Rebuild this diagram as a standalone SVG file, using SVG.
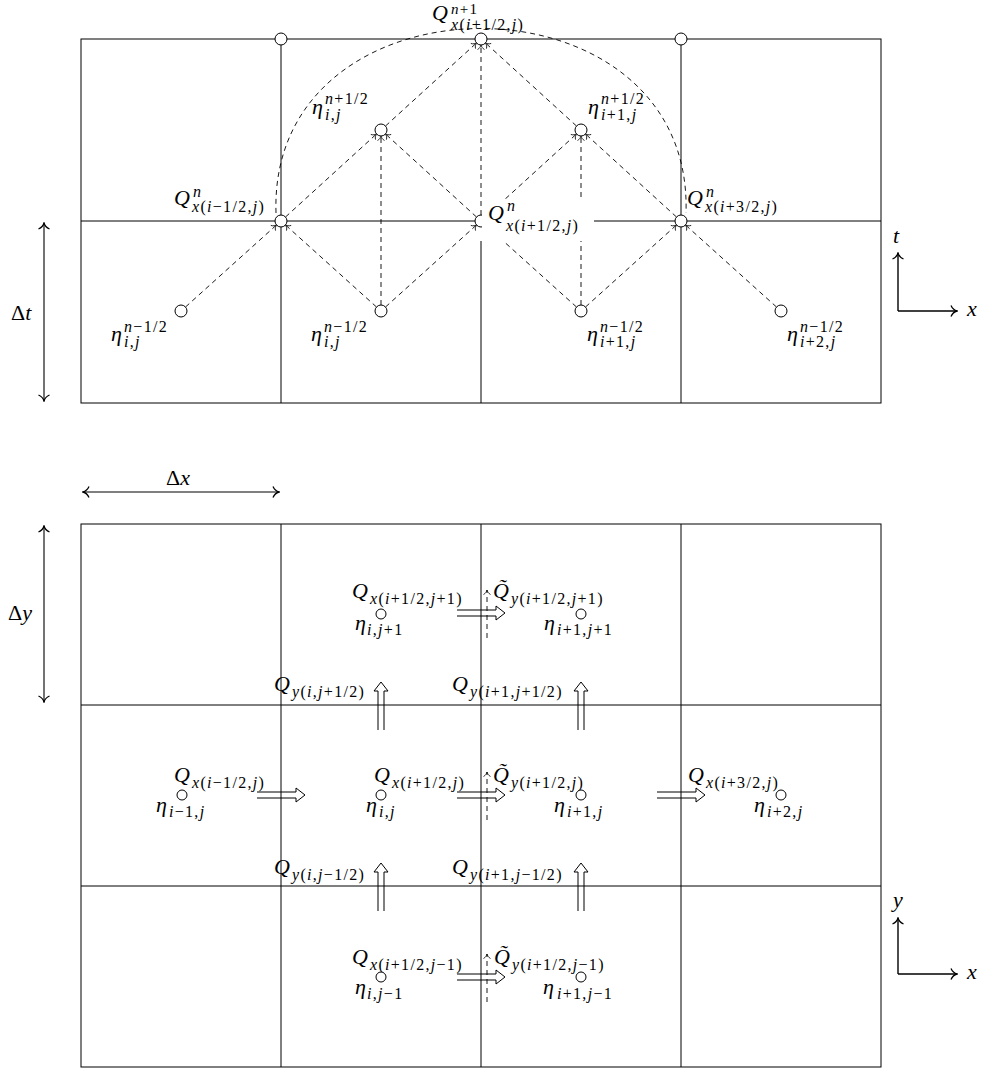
<svg xmlns="http://www.w3.org/2000/svg" width="982" height="1068" viewBox="0 0 982 1068">
<style>
.g{stroke:#000;stroke-width:1;fill:none}
.d{stroke:#000;stroke-width:0.9;fill:none;stroke-dasharray:5 4}
.c{fill:#fff;stroke:#000;stroke-width:1}
.da{fill:none;stroke:#000;stroke-width:1.1}
.ax{stroke:#000;stroke-width:1.4;fill:none}
.t{font-family:"Liberation Serif","DejaVu Serif",serif;font-size:22px;fill:#000}
.i{font-style:italic}
.s{font-size:16px;letter-spacing:1.3px}
.s2{font-size:15px;letter-spacing:1.3px}
</style>
<defs>
<marker id="ah" viewBox="-6 -5 7 10" refX="0" refY="0" markerWidth="7" markerHeight="10" markerUnits="userSpaceOnUse" orient="auto"><path d="M-4.5,-3.5 C-3.5,-1.4 -1.2,-0.3 0,0 C-1.2,0.3 -3.5,1.4 -4.5,3.5" fill="none" stroke="#000" stroke-width="0.8"/></marker>
<marker id="ax" viewBox="-8 -7 9 14" refX="0" refY="0" markerWidth="9" markerHeight="14" markerUnits="userSpaceOnUse" orient="auto-start-reverse"><path d="M-6,-5.5 C-4.5,-2.2 -1.5,-0.4 0,0 C-1.5,0.4 -4.5,2.2 -6,5.5" fill="none" stroke="#000" stroke-width="1.3"/></marker>
</defs>

<!-- top panel grid -->
<g id="grid-top" class="g">
<rect x="81" y="39" width="800" height="364"/>
<line x1="281" y1="39" x2="281" y2="403"/>
<line x1="681" y1="39" x2="681" y2="403"/>
<line x1="481" y1="241" x2="481" y2="403"/>
<line x1="81" y1="221" x2="881" y2="221"/>
</g>

<!-- bottom panel grid -->
<g id="grid-bottom" class="g">
<rect x="81" y="524" width="800" height="543"/>
<line x1="281" y1="524" x2="281" y2="1067"/>
<line x1="481" y1="524" x2="481" y2="1067"/>
<line x1="681" y1="524" x2="681" y2="1067"/>
<line x1="81" y1="705" x2="881" y2="705"/>
<line x1="81" y1="886" x2="881" y2="886"/>
</g>

<!-- connectors -->
<g id="connectors" class="d">
<path d="M276,213 C268,-33 694,-33 686,213"/>
<line x1="185.5" y1="307" x2="276.5" y2="225" marker-end="url(#ah)"/>
<line x1="376.5" y1="307" x2="285.5" y2="225" marker-end="url(#ah)"/>
<line x1="385.5" y1="307" x2="476.5" y2="225" marker-end="url(#ah)"/>
<line x1="576.5" y1="307" x2="485.5" y2="225" marker-end="url(#ah)"/>
<line x1="585.5" y1="307" x2="676.5" y2="225" marker-end="url(#ah)"/>
<line x1="776.5" y1="307" x2="685.5" y2="225" marker-end="url(#ah)"/>
<line x1="285.5" y1="217" x2="376.5" y2="134" marker-end="url(#ah)"/>
<line x1="476.5" y1="217" x2="385.5" y2="134" marker-end="url(#ah)"/>
<line x1="381" y1="305" x2="381" y2="136" marker-end="url(#ah)"/>
<line x1="485.5" y1="217" x2="576.5" y2="134" marker-end="url(#ah)"/>
<line x1="676.5" y1="217" x2="585.5" y2="134" marker-end="url(#ah)"/>
<line x1="581" y1="305" x2="581" y2="136" marker-end="url(#ah)"/>
<line x1="385.5" y1="126" x2="476.5" y2="43" marker-end="url(#ah)"/>
<line x1="576.5" y1="126" x2="485.5" y2="43" marker-end="url(#ah)"/>
<line x1="481" y1="215" x2="481" y2="45" marker-end="url(#ah)"/>
</g>

<!-- top nodes -->
<g id="node-q-top-left"><circle class="c" cx="281" cy="39" r="6"/></g>
<g id="node-q-top-right"><circle class="c" cx="681" cy="39" r="6"/></g>
<g id="node-qnp1">
<circle class="c" cx="481" cy="39" r="6"/>
<text class="t"><tspan class="i" x="432" y="20">Q</tspan><tspan class="s2" x="451" y="14"><tspan class="i">n</tspan>+1</tspan><tspan class="s" x="451" y="30"><tspan class="i">x</tspan>(<tspan class="i">i</tspan>+1/2,<tspan class="i">j</tspan>)</tspan></text>
</g>
<g id="node-eta-nph-i">
<circle class="c" cx="381" cy="130" r="6"/>
<text class="t"><tspan class="i" x="312" y="114">η</tspan><tspan class="s" x="325" y="104"><tspan class="i">n</tspan>+1/2</tspan><tspan class="s" x="325" y="120"><tspan class="i">i</tspan>,<tspan class="i">j</tspan></tspan></text>
</g>
<g id="node-eta-nph-i1">
<circle class="c" cx="581" cy="130" r="6"/>
<text class="t"><tspan class="i" x="588" y="114">η</tspan><tspan class="s" x="601" y="104"><tspan class="i">n</tspan>+1/2</tspan><tspan class="s" x="601" y="120"><tspan class="i">i</tspan>+1,<tspan class="i">j</tspan></tspan></text>
</g>
<g id="node-qn-im">
<circle class="c" cx="281" cy="221" r="6"/>
<text class="t"><tspan class="i" x="174" y="205">Q</tspan><tspan class="s" x="193" y="197"><tspan class="i">n</tspan></tspan><tspan class="s" x="192" y="212"><tspan class="i">x</tspan>(<tspan class="i">i</tspan>−1/2,<tspan class="i">j</tspan>)</tspan></text>
</g>
<g id="node-qn-ip">
<circle class="c" cx="481" cy="221" r="6"/>
<rect x="482" y="199" width="112" height="42" fill="#fff"/>
<text class="t"><tspan class="i" x="488" y="220">Q</tspan><tspan class="s" x="507" y="211"><tspan class="i">n</tspan></tspan><tspan class="s" x="506" y="231"><tspan class="i">x</tspan>(<tspan class="i">i</tspan>+1/2,<tspan class="i">j</tspan>)</tspan></text>
</g>
<g id="node-qn-ip3">
<circle class="c" cx="681" cy="221" r="6"/>
<text class="t"><tspan class="i" x="687" y="205">Q</tspan><tspan class="s" x="706" y="197"><tspan class="i">n</tspan></tspan><tspan class="s" x="705" y="212"><tspan class="i">x</tspan>(<tspan class="i">i</tspan>+3/2,<tspan class="i">j</tspan>)</tspan></text>
</g>
<g id="node-eta-nmh-a">
<circle class="c" cx="181" cy="311" r="6"/>
<text class="t"><tspan class="i" x="111" y="341">η</tspan><tspan class="s" x="124" y="332"><tspan class="i">n</tspan>−1/2</tspan><tspan class="s" x="124" y="347"><tspan class="i">i</tspan>,<tspan class="i">j</tspan></tspan></text>
</g>
<g id="node-eta-nmh-b">
<circle class="c" cx="381" cy="311" r="6"/>
<text class="t"><tspan class="i" x="311" y="341">η</tspan><tspan class="s" x="324" y="332"><tspan class="i">n</tspan>−1/2</tspan><tspan class="s" x="324" y="347"><tspan class="i">i</tspan>,<tspan class="i">j</tspan></tspan></text>
</g>
<g id="node-eta-nmh-c">
<circle class="c" cx="581" cy="311" r="6"/>
<text class="t"><tspan class="i" x="587" y="341">η</tspan><tspan class="s" x="600" y="332"><tspan class="i">n</tspan>−1/2</tspan><tspan class="s" x="600" y="347"><tspan class="i">i</tspan>+1,<tspan class="i">j</tspan></tspan></text>
</g>
<g id="node-eta-nmh-d">
<circle class="c" cx="781" cy="311" r="6"/>
<text class="t"><tspan class="i" x="787" y="341">η</tspan><tspan class="s" x="800" y="332"><tspan class="i">n</tspan>−1/2</tspan><tspan class="s" x="800" y="347"><tspan class="i">i</tspan>+2,<tspan class="i">j</tspan></tspan></text>
</g>

<!-- dimension arrows and axes -->
<g id="dim-dt">
<line class="da" x1="44" y1="223" x2="44" y2="401" marker-start="url(#ax)" marker-end="url(#ax)"/>
<text class="t" x="11" y="320">Δ<tspan class="i">t</tspan></text>
</g>
<g id="axes-tx">
<line class="ax" x1="898" y1="311" x2="898" y2="253" marker-end="url(#ax)"/>
<line class="ax" x1="898" y1="311" x2="957" y2="311" marker-end="url(#ax)"/>
<text class="t i" x="893" y="243">t</text>
<text class="t i" x="967" y="316">x</text>
</g>
<g id="dim-dx">
<line class="da" x1="83" y1="492" x2="279" y2="492" marker-start="url(#ax)" marker-end="url(#ax)"/>
<text class="t" x="166" y="485">Δ<tspan class="i">x</tspan></text>
</g>
<g id="dim-dy">
<line class="da" x1="44" y1="526" x2="44" y2="702" marker-start="url(#ax)" marker-end="url(#ax)"/>
<text class="t" x="8" y="620">Δ<tspan class="i">y</tspan></text>
</g>
<g id="axes-xy">
<line class="ax" x1="898" y1="974" x2="898" y2="918" marker-end="url(#ax)"/>
<line class="ax" x1="898" y1="974" x2="957" y2="974" marker-end="url(#ax)"/>
<text class="t i" x="893" y="907">y</text>
<text class="t i" x="967" y="979">x</text>
</g>

<!-- bottom flux arrows -->
<g id="flux-qx-ip-jp">
<path class="g" d="M457,610 H496 V606 L505,613 L496,620 V616 H457"/>
<text class="t"><tspan class="i" x="352" y="598">Q</tspan><tspan class="s" x="370" y="604"><tspan class="i">x</tspan>(<tspan class="i">i</tspan>+1/2,<tspan class="i">j</tspan>+1)</tspan></text>
</g>
<g id="flux-qxt-ip-jp">
<line class="d" x1="487" y1="638" x2="487" y2="590" marker-end="url(#ah)"/>
<text class="t"><tspan class="i" x="493" y="598">Q̃</tspan><tspan class="s" x="511" y="604"><tspan class="i">y</tspan>(<tspan class="i">i</tspan>+1/2,<tspan class="i">j</tspan>+1)</tspan></text>
</g>
<g id="flux-qy-i-jph">
<path class="g" d="M378,730 V691 H374 L381,682 L388,691 H384 V730"/>
<text class="t"><tspan class="i" x="274" y="691">Q</tspan><tspan class="s" x="292" y="697"><tspan class="i">y</tspan>(<tspan class="i">i</tspan>,<tspan class="i">j</tspan>+1/2)</tspan></text>
</g>
<g id="flux-qy-ip-jph">
<path class="g" d="M578,730 V691 H574 L581,682 L588,691 H584 V730"/>
<text class="t"><tspan class="i" x="452" y="691">Q</tspan><tspan class="s" x="470" y="697"><tspan class="i">y</tspan>(<tspan class="i">i</tspan>+1,<tspan class="i">j</tspan>+1/2)</tspan></text>
</g>
<g id="flux-qx-im-j">
<path class="g" d="M257,792 H296 V788 L305,795 L296,802 V798 H257"/>
<text class="t"><tspan class="i" x="174" y="782">Q</tspan><tspan class="s" x="192" y="788"><tspan class="i">x</tspan>(<tspan class="i">i</tspan>−1/2,<tspan class="i">j</tspan>)</tspan></text>
</g>
<g id="flux-qx-ip-j">
<path class="g" d="M457,792 H496 V788 L505,795 L496,802 V798 H457"/>
<text class="t"><tspan class="i" x="374" y="782">Q</tspan><tspan class="s" x="392" y="788"><tspan class="i">x</tspan>(<tspan class="i">i</tspan>+1/2,<tspan class="i">j</tspan>)</tspan></text>
</g>
<g id="flux-qxt-ip-j">
<line class="d" x1="487" y1="820" x2="487" y2="772" marker-end="url(#ah)"/>
<text class="t"><tspan class="i" x="493" y="782">Q̃</tspan><tspan class="s" x="511" y="788"><tspan class="i">y</tspan>(<tspan class="i">i</tspan>+1/2,<tspan class="i">j</tspan>)</tspan></text>
</g>
<g id="flux-qx-ip3-j">
<path class="g" d="M657,792 H696 V788 L705,795 L696,802 V798 H657"/>
<text class="t"><tspan class="i" x="688" y="782">Q</tspan><tspan class="s" x="706" y="788"><tspan class="i">x</tspan>(<tspan class="i">i</tspan>+3/2,<tspan class="i">j</tspan>)</tspan></text>
</g>
<g id="flux-qy-i-jmh">
<path class="g" d="M378,911 V872 H374 L381,863 L388,872 H384 V911"/>
<text class="t"><tspan class="i" x="274" y="874">Q</tspan><tspan class="s" x="292" y="880"><tspan class="i">y</tspan>(<tspan class="i">i</tspan>,<tspan class="i">j</tspan>−1/2)</tspan></text>
</g>
<g id="flux-qy-ip-jmh">
<path class="g" d="M578,911 V872 H574 L581,863 L588,872 H584 V911"/>
<text class="t"><tspan class="i" x="452" y="874">Q</tspan><tspan class="s" x="470" y="880"><tspan class="i">y</tspan>(<tspan class="i">i</tspan>+1,<tspan class="i">j</tspan>−1/2)</tspan></text>
</g>
<g id="flux-qx-ip-jm">
<path class="g" d="M457,974 H496 V970 L505,977 L496,984 V980 H457"/>
<text class="t"><tspan class="i" x="352" y="964">Q</tspan><tspan class="s" x="370" y="970"><tspan class="i">x</tspan>(<tspan class="i">i</tspan>+1/2,<tspan class="i">j</tspan>−1)</tspan></text>
</g>
<g id="flux-qxt-ip-jm">
<line class="d" x1="487" y1="1002" x2="487" y2="954" marker-end="url(#ah)"/>
<text class="t"><tspan class="i" x="494" y="964">Q̃</tspan><tspan class="s" x="512" y="970"><tspan class="i">y</tspan>(<tspan class="i">i</tspan>+1/2,<tspan class="i">j</tspan>−1)</tspan></text>
</g>

<!-- bottom eta nodes -->
<g id="node-eta-i-jp">
<circle class="c" cx="381" cy="614" r="5"/>
<text class="t"><tspan class="i" x="355" y="630">η</tspan><tspan class="s" x="367" y="635"><tspan class="i">i</tspan>,<tspan class="i">j</tspan>+1</tspan></text>
</g>
<g id="node-eta-ip-jp">
<circle class="c" cx="581" cy="614" r="5"/>
<text class="t"><tspan class="i" x="544" y="630">η</tspan><tspan class="s" x="557" y="635"><tspan class="i">i</tspan>+1,<tspan class="i">j</tspan>+1</tspan></text>
</g>
<g id="node-eta-im-j">
<circle class="c" cx="182" cy="795" r="5"/>
<text class="t"><tspan class="i" x="156" y="812">η</tspan><tspan class="s" x="169" y="817"><tspan class="i">i</tspan>−1,<tspan class="i">j</tspan></tspan></text>
</g>
<g id="node-eta-i-j">
<circle class="c" cx="381" cy="795" r="5"/>
<text class="t"><tspan class="i" x="366" y="812">η</tspan><tspan class="s" x="379" y="817"><tspan class="i">i</tspan>,<tspan class="i">j</tspan></tspan></text>
</g>
<g id="node-eta-ip-j">
<circle class="c" cx="581" cy="795" r="5"/>
<text class="t"><tspan class="i" x="554" y="812">η</tspan><tspan class="s" x="567" y="817"><tspan class="i">i</tspan>+1,<tspan class="i">j</tspan></tspan></text>
</g>
<g id="node-eta-ip2-j">
<circle class="c" cx="781" cy="795" r="5"/>
<text class="t"><tspan class="i" x="754" y="812">η</tspan><tspan class="s" x="767" y="817"><tspan class="i">i</tspan>+2,<tspan class="i">j</tspan></tspan></text>
</g>
<g id="node-eta-i-jm">
<circle class="c" cx="381" cy="977" r="5"/>
<text class="t"><tspan class="i" x="355" y="994">η</tspan><tspan class="s" x="367" y="999"><tspan class="i">i</tspan>,<tspan class="i">j</tspan>−1</tspan></text>
</g>
<g id="node-eta-ip-jm">
<circle class="c" cx="581" cy="977" r="5"/>
<text class="t"><tspan class="i" x="543" y="994">η</tspan><tspan class="s" x="557" y="999"><tspan class="i">i</tspan>+1,<tspan class="i">j</tspan>−1</tspan></text>
</g>
</svg>
